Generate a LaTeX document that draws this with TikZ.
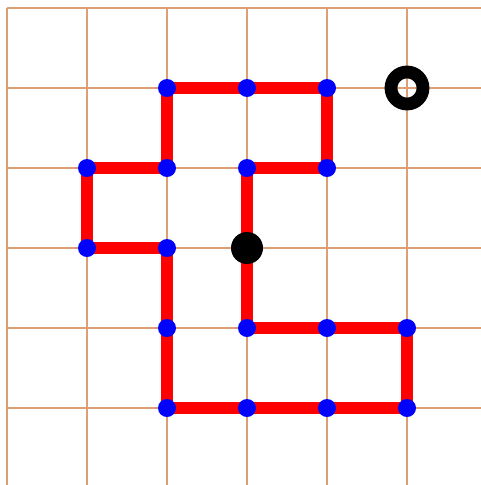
\documentclass[tikz,border=0pt]{standalone}
\definecolor{gridtan}{RGB}{220,158,116}

\begin{document}
\begin{tikzpicture}[x=1cm, y=1cm]
  \useasboundingbox (-0.0875,0.1) rectangle (5.925,-5.9625);

  % grid
  \foreach \k in {0,...,5} {
    \draw[gridtan, line width=0.036cm] (\k,0) -- (\k,-5.9625);
    \draw[gridtan, line width=0.036cm] (0,-\k) -- (5.925,-\k);
  }

  % vertices of the walk, start at the black dot
  \foreach \x/\y [count=\i] in {3/3, 3/2, 4/2, 4/1, 3/1, 2/1, 2/2, 1/2, 1/3,
                               2/3, 2/4, 2/5, 3/5, 4/5, 5/5, 5/4, 4/4, 3/4}
    \coordinate (p\i) at (\x,-\y);
  \coordinate (G) at (5,-1);

  \draw[red, line width=0.15cm] (p1)--(p2)--(p3)--(p4)--(p5)--(p6)--(p7)--(p8)--(p9)
    --(p10)--(p11)--(p12)--(p13)--(p14)--(p15)--(p16)--(p17)--(p18)--cycle;

  \foreach \pt in {2,...,18} \fill[blue] (p\pt) circle (0.1125);
  \fill[black] (p1) circle (0.2);
  \draw[black, line width=0.16cm] (G) circle (0.2);
\end{tikzpicture}
\end{document}
